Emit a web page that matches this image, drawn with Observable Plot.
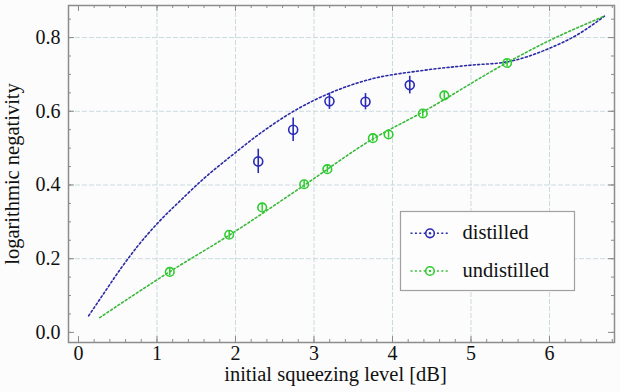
<!DOCTYPE html>
<html><head><meta charset="utf-8">
<script src="https://cdn.jsdelivr.net/npm/d3@7"></script>
<script src="https://cdn.jsdelivr.net/npm/@observablehq/plot@0.6"></script>
<style>
body{margin:0;background:#fcfcfc;}
#chart{position:relative;width:620px;height:392px;}
#chart svg text{font-family:'Liberation Serif','Times New Roman',serif;}
</style>
</head><body><div id="chart"></div>
<script>
// ---- data ----
const distilledX   = [2.29, 2.735, 3.197, 3.656, 4.22];
const distilledY   = [0.464, 0.550, 0.627, 0.626, 0.671];
const distilledErr = [0.033, 0.032, 0.022, 0.022, 0.024];

const undistilledX   = [1.163, 1.92, 2.34, 2.875, 3.17, 3.75, 3.95, 4.386, 4.66, 5.46];
const undistilledY   = [0.164, 0.265, 0.339, 0.402, 0.443, 0.527, 0.537, 0.594, 0.643, 0.731];
const undistilledErr = [0.01, 0.01, 0.01, 0.01, 0.01, 0.01, 0.01, 0.01, 0.01, 0.01];

const distilledTheoryX = [0.13, 0.32, 0.535, 0.75, 1.02, 1.30, 1.60, 1.94, 2.36, 2.74, 3.21, 3.72, 4.36, 4.99, 5.46, 6.0, 6.35, 6.7];
const distilledTheoryY = [0.045, 0.105, 0.172, 0.233, 0.299, 0.358, 0.418, 0.478, 0.547, 0.600, 0.650, 0.687, 0.710, 0.725, 0.734, 0.771, 0.807, 0.858];

const undistilledTheoryX = [0.27, 1.15, 1.93, 2.88, 3.75, 4.36, 5.46, 6.0, 6.7];
const undistilledTheoryY = [0.04, 0.163, 0.265, 0.400, 0.525, 0.595, 0.732, 0.792, 0.858];

const xTicks = [0, 1, 2, 3, 4, 5, 6];
const yTicks = [0, 0.2, 0.4, 0.6, 0.8];
const xGrid = [1, 2, 3, 4, 5, 6];
const yGrid = [0.2, 0.4, 0.6, 0.8];
const xMinor = d3.range(0, 35).map(i => i * 0.2);
const yMinor = d3.range(0, 18).map(i => i * 0.05);

const seriesNames = ["distilled", "undistilled"];
const xLabel = "initial squeezing level [dB]";
const yLabel = "logarithmic negativity";

// ---- tables ----
const distilled = distilledX.map((x, i) => ({x, y: distilledY[i], e: distilledErr[i]}));
const undistilled = undistilledX.map((x, i) => ({x, y: undistilledY[i], e: undistilledErr[i]}));
const distilledTheory = distilledTheoryX.map((x, i) => ({x, y: distilledTheoryY[i]}));
const undistilledTheory = undistilledTheoryX.map((x, i) => ({x, y: undistilledTheoryY[i]}));

// ---- styles ----
const W = 620, H = 392, mL = 68, mR = 6, mT = 5, mB = 50;
const plotW = W - mL - mR, plotH = H - mT - mB;
const BLUE = "#2a2ab8", BLUE_LINE = "#2b2ba6", GREEN = "#2fcc2f", GREEN_LINE = "#3cb83c";
const FRAME = "#8c8c8c", GRID = "#c9dbe0";
const FONT = "'Liberation Serif', 'Times New Roman', serif";
const DASH = "2,2.4";

const svg = Plot.plot({
  width: W, height: H,
  marginLeft: mL, marginRight: mR, marginTop: mT, marginBottom: mB,
  style: {fontFamily: FONT, fontSize: "20px", background: "transparent", color: "#111"},
  x: {domain: [-0.127, 6.828]},
  y: {domain: [-0.0274, 0.887]},
  marks: [
    Plot.ruleX(xGrid, {x: d => d, stroke: GRID, strokeWidth: 1, strokeDasharray: "5,2"}),
    Plot.ruleY(yGrid, {y: d => d, stroke: GRID, strokeWidth: 1, strokeDasharray: "5,2"}),
    // inward ticks
    Plot.tickX(xMinor, {x: d => d, stroke: FRAME, insetTop: plotH - 3}),
    Plot.tickX(xMinor, {x: d => d, stroke: FRAME, insetBottom: plotH - 3}),
    Plot.tickX(xTicks, {x: d => d, stroke: FRAME, insetTop: plotH - 6}),
    Plot.tickX(xTicks, {x: d => d, stroke: FRAME, insetBottom: plotH - 6}),
    Plot.tickY(yMinor, {y: d => d, stroke: FRAME, insetRight: plotW - 3}),
    Plot.tickY(yMinor, {y: d => d, stroke: FRAME, insetLeft: plotW - 3}),
    Plot.tickY(yTicks, {y: d => d, stroke: FRAME, insetRight: plotW - 6}),
    Plot.tickY(yTicks, {y: d => d, stroke: FRAME, insetLeft: plotW - 6}),
    Plot.axisX({ticks: xTicks, tickSize: 0, tickPadding: 3.5, tickFormat: d => String(d), label: null, fontSize: 20, fontFamily: FONT}),
    Plot.axisY({ticks: yTicks, tickSize: 0, tickPadding: 8, tickFormat: d3.format(".1f"), label: null, fontSize: 20, fontFamily: FONT}),
    // theory curves
    Plot.line(distilledTheory, {x: "x", y: "y", stroke: BLUE_LINE, strokeWidth: 1.6, strokeDasharray: DASH, curve: "monotone-x"}),
    Plot.line(undistilledTheory, {x: "x", y: "y", stroke: GREEN_LINE, strokeWidth: 1.6, strokeDasharray: DASH, curve: "monotone-x"}),
    // data
    Plot.ruleX(undistilled, {x: "x", y1: d => d.y - d.e, y2: d => d.y + d.e, stroke: GREEN, strokeWidth: 1.5}),
    Plot.dot(undistilled, {x: "x", y: "y", r: 4.3, stroke: GREEN, strokeWidth: 1.6, fill: "none"}),
    Plot.ruleX(distilled, {x: "x", y1: d => d.y - d.e, y2: d => d.y + d.e, stroke: BLUE, strokeWidth: 1.6}),
    Plot.dot(distilled, {x: "x", y: "y", r: 4.5, stroke: BLUE, strokeWidth: 1.6, fill: "none"}),
    Plot.frame({stroke: FRAME, strokeWidth: 1.5}),
    // axis labels
    Plot.text([xLabel], {text: d => d, frameAnchor: "bottom", textAnchor: "middle", lineAnchor: "middle", dx: -6, dy: 32.4, fontSize: 20.5, fontFamily: FONT, fill: "#111"}),
    Plot.text([yLabel], {text: d => d, frameAnchor: "left", textAnchor: "middle", lineAnchor: "middle", rotate: -90, dx: -56, fontSize: 20.5, fontFamily: FONT, fill: "#111"})
  ]
});
document.getElementById("chart").appendChild(svg);

// ---- legend ----
const lg = d3.select(svg).append("g").attr("font-family", FONT).attr("font-size", 20.5).attr("text-anchor", "start");
lg.append("rect").attr("x", 400.5).attr("y", 211.5).attr("width", 174).attr("height", 79)
  .attr("fill", "#fdfdfd").attr("stroke", "#a0a0a0").attr("stroke-width", 1.2);
const legendItems = [
  {name: seriesNames[0], color: BLUE, line: BLUE_LINE, cy: 233.3},
  {name: seriesNames[1], color: GREEN, line: GREEN_LINE, cy: 271}
];
legendItems.forEach(it => {
  lg.append("line").attr("x1", 410.5).attr("x2", 450).attr("y1", it.cy).attr("y2", it.cy)
    .attr("stroke", it.line).attr("stroke-width", 1.6).attr("stroke-dasharray", DASH);
  lg.append("circle").attr("cx", 430).attr("cy", it.cy).attr("r", 4.3)
    .attr("fill", "#fdfdfd").attr("stroke", it.color).attr("stroke-width", 1.6);
  lg.append("circle").attr("cx", 430).attr("cy", it.cy).attr("r", 1.2).attr("fill", it.color);
  lg.append("text").attr("x", 462.5).attr("y", it.cy + 6).attr("text-anchor", "start").attr("fill", "#111").text(it.name);
});
</script>
</body></html>
